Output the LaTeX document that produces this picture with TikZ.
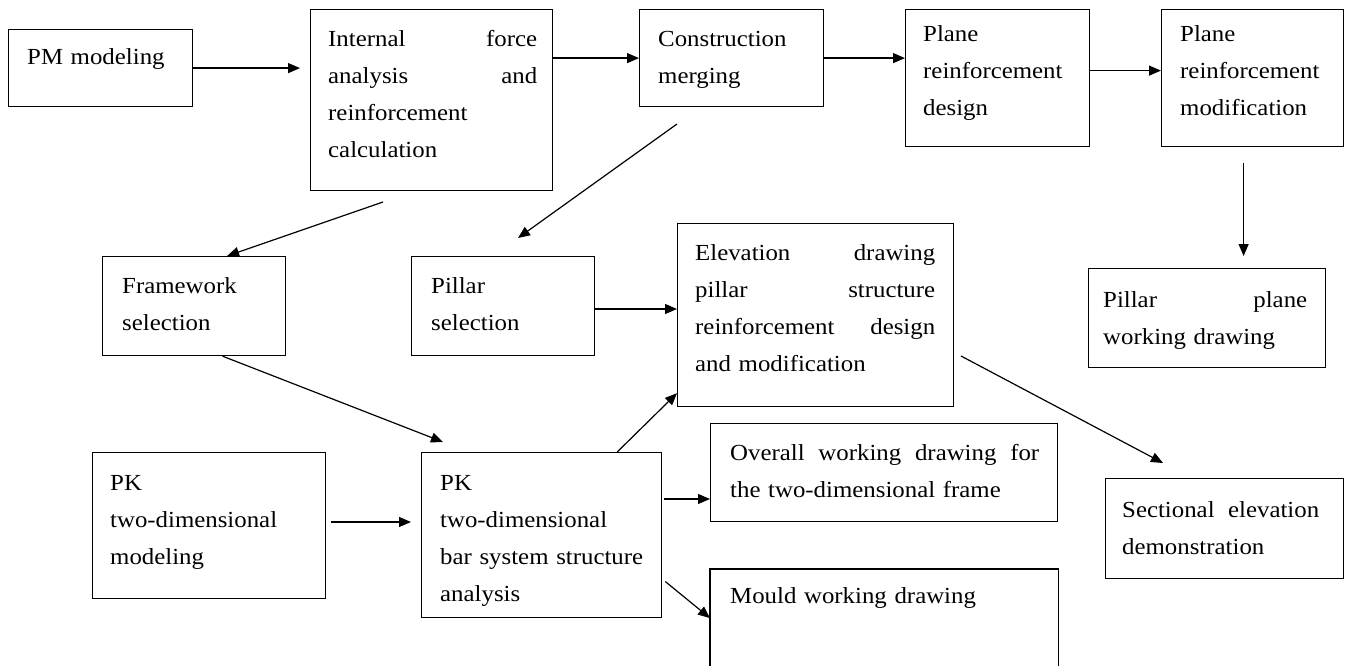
\documentclass[tikz,border=0pt]{standalone}
\usepackage{fontspec}
\setmainfont{Liberation Serif}[FakeStretch=1.08]
\usetikzlibrary{arrows.meta,calc}
\tikzset{
  box/.style={draw, line width=1.2pt, inner sep=0pt, anchor=north west},
  txt/.style={inner sep=0pt, anchor=base west, align=left, text width=170pt, font=\fontsize{23}{37}\selectfont},
  arr/.style={line width=1.2pt, -{Triangle[length=12pt,width=10pt]}}
}
\newcommand\bx[5]{\node[box, minimum width={(#4)-(#2)}, minimum height={(#5)-(#3)}] (#1) at (#2,#3) {};}
\begin{document}
\begin{tikzpicture}[x=1pt,y=-1pt]
\useasboundingbox[fill=white] (0,0) rectangle (1350,666);
% boxes
\bx{pm}{8}{29}{192}{106}
\bx{inter}{310}{9}{552}{190}
\bx{cons}{639}{9}{823}{106}
\bx{pdes}{905}{9}{1089}{146}
\bx{pmod}{1161}{9}{1343}{146}
\bx{frame}{102}{256}{285}{355}
\bx{pillar}{411}{256}{594}{355}
\bx{elev}{677}{223}{953}{406}
\bx{pplane}{1088}{268}{1325}{367}
\bx{pktwo}{92}{452}{325}{598}
\bx{pkbar}{421}{452}{661}{617}
\bx{overall}{710}{423}{1057}{521}
\node[box, draw=none, minimum width=347, minimum height=97] (mould) at (710,569) {};
\draw[line width=1.2pt] (mould.south west) -- (mould.north west) -- (mould.north east) -- (mould.south east);
\bx{sect}{1105}{478}{1343}{578}
% texts
\node[txt] (pm-t) at (27,65) {PM modeling};
\node[txt, text width=209pt] (inter-t) at (328,47) {Internal\hfill force\\analysis\hfill and\\reinforcement\\calculation};
\node[txt] (cons-t) at (658,47) {Construction\\merging};
\node[txt] (pdes-t) at (923,42) {Plane\\reinforcement\\design};
\node[txt] (pmod-t) at (1180,42) {Plane\\reinforcement\\modification};
\node[txt] (frame-t) at (122,293) {Framework\\selection};
\node[txt] (pillar-t) at (431,293) {Pillar\\selection};
\node[txt, text width=240pt] (elev-t) at (695,260) {Elevation\hfill drawing\\pillar\hfill structure\\reinforcement\hfill design\\and modification};
\node[txt, text width=204pt] (pplane-t) at (1103,307) {Pillar\hfill plane\\working drawing};
\node[txt] (pktwo-t) at (110,490) {PK\\two-dimensional\\modeling};
\node[txt, text width=215pt] (pkbar-t) at (440,490) {PK\\two-dimensional\\bar system structure\\analysis};
\node[txt, text width=309pt] (overall-t) at (730,460) {Overall\hfill working\hfill drawing\hfill for\\the two-dimensional frame};
\node[txt, text width=300pt] (mould-t) at (730,603) {Mould working drawing};
\node[txt, text width=197pt] (sect-t) at (1122,517) {Sectional\hfill elevation\\demonstration};
% free ends
\coordinate (s6) at (383,202);
\coordinate (s7) at (677,124);
\coordinate (e7) at (518,238);
\coordinate (e9) at (443,442);
\coordinate (s14) at (961,356);
\coordinate (e14) at (1163,463);
% connectors
\draw[arr, shorten >=10pt] (pm.east) -- (pm.east -| inter.west);
\draw[arr] (cons.west -| inter.east) -- (cons.west);
\draw[arr] (cons.east) -- (cons.east -| pdes.west);
\draw[arr] ([yshift=7.5pt]pdes.east) -- ([yshift=7.5pt]pdes.east -| pmod.west);
\draw[arr, shorten <=16pt, shorten >=12pt] ([xshift=-9pt]pmod.south) -- ([xshift=-9pt]pmod.south |- pplane.north);
\draw[arr] (s6) -- ([xshift=33pt]frame.north);
\draw[arr] (s7) -- (e7);
\draw[arr] (pillar.east |- 0,309) -- (elev.west |- 0,309);
\draw[arr] ([xshift=28.5pt]frame.south) -- (e9);
\draw[arr, shorten <=5pt, shorten >=10pt] (pktwo.east |- 0,522) -- (pkbar.west |- 0,522);
\draw[arr] ([xshift=-45pt]pkbar.north east) -- ([yshift=14pt]elev.south west);
\draw[arr, shorten <=2pt] (pkbar.east |- 0,499) -- (overall.west |- 0,499);
\draw[arr, shorten <=4pt] (pkbar.east |- 0,579) -- (mould.west);
\draw[arr] (s14) -- (e14);
\end{tikzpicture}
\end{document}
